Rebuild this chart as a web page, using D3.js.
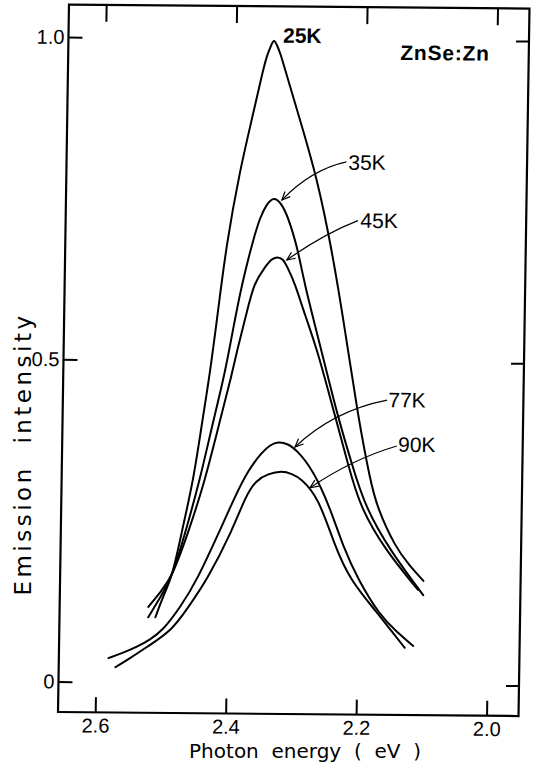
<!DOCTYPE html>
<html><head><meta charset="utf-8">
<script src="https://cdn.jsdelivr.net/npm/d3@7/dist/d3.min.js"></script>
<style>body{margin:0;background:#fff}svg{display:block}</style>
</head><body>
<svg id="chart" width="533" height="766"></svg>
<script>
// ---- data ----
const e25 = [2.510, 2.499, 2.485, 2.471, 2.455, 2.444, 2.432, 2.421, 2.410, 2.391, 2.374, 2.358, 2.351, 2.346, 2.342, 2.337, 2.332, 2.324, 2.300, 2.273, 2.248, 2.226, 2.204, 2.184, 2.173, 2.144, 2.121, 2.100];
const i25 = [0.101, 0.133, 0.164, 0.237, 0.314, 0.397, 0.481, 0.579, 0.680, 0.796, 0.874, 0.952, 0.978, 0.990, 1.000, 0.990, 0.978, 0.952, 0.874, 0.786, 0.673, 0.549, 0.414, 0.317, 0.275, 0.213, 0.184, 0.161];
const e35 = [2.521, 2.503, 2.485, 2.465, 2.445, 2.428, 2.409, 2.398, 2.385, 2.369, 2.359, 2.349, 2.338, 2.327, 2.316, 2.300, 2.290, 2.262, 2.235, 2.212, 2.191, 2.152, 2.100];
const i35 = [0.101, 0.132, 0.164, 0.237, 0.315, 0.397, 0.481, 0.548, 0.621, 0.688, 0.723, 0.744, 0.755, 0.745, 0.724, 0.673, 0.622, 0.518, 0.414, 0.340, 0.275, 0.208, 0.139];
const e45 = [2.521, 2.503, 2.485, 2.459, 2.437, 2.418, 2.398, 2.391, 2.378, 2.367, 2.350, 2.341, 2.332, 2.323, 2.316, 2.304, 2.288, 2.268, 2.239, 2.218, 2.199, 2.159, 2.108];
const i45 = [0.117, 0.140, 0.164, 0.241, 0.315, 0.397, 0.481, 0.517, 0.571, 0.621, 0.646, 0.658, 0.662, 0.659, 0.646, 0.621, 0.572, 0.518, 0.414, 0.340, 0.275, 0.208, 0.147];
const e77 = [2.581, 2.560, 2.537, 2.518, 2.498, 2.472, 2.447, 2.413, 2.391, 2.371, 2.350, 2.338, 2.326, 2.311, 2.297, 2.272, 2.245, 2.224, 2.200, 2.166, 2.139, 2.114];
const i77 = [0.037, 0.045, 0.055, 0.066, 0.081, 0.117, 0.159, 0.237, 0.289, 0.331, 0.359, 0.370, 0.375, 0.372, 0.362, 0.332, 0.274, 0.213, 0.162, 0.107, 0.081, 0.060];
const e90 = [2.570, 2.548, 2.522, 2.484, 2.460, 2.432, 2.394, 2.375, 2.359, 2.341, 2.319, 2.304, 2.291, 2.263, 2.236, 2.212, 2.170, 2.148, 2.127];
const i90 = [0.023, 0.037, 0.055, 0.081, 0.117, 0.159, 0.237, 0.289, 0.315, 0.325, 0.330, 0.325, 0.319, 0.290, 0.212, 0.161, 0.111, 0.083, 0.057];

const seriesNames = ["25K", "35K", "45K", "77K", "90K"];
const labelE = [2.328, 2.225, 2.205, 2.158, 2.142];
const labelI = [0.994, 0.798, 0.708, 0.430, 0.361];
const labelBold = [true, false, false, false, false];
// arrows (35K, 45K, 77K, 90K): start, middle, tip
const arrowNames = ["35K", "45K", "77K", "90K"];
const arrowStartE = [2.228, 2.209, 2.160, 2.144];
const arrowStartI = [0.810, 0.719, 0.441, 0.370];
const arrowMidE = [2.279, 2.262, 2.236, 2.211];
const arrowMidI = [0.789, 0.693, 0.414, 0.343];
const arrowTipE = [2.326, 2.317, 2.300, 2.276];
const arrowTipI = [0.750, 0.657, 0.367, 0.304];

const xTicks = [2.6, 2.4, 2.2, 2.0];
const yTicks = [0, 0.5, 1.0];
const sampleName = "ZnSe:Zn";
const sampleE = 2.148, sampleI = 0.969;
const xTitle = "Photon  energy  (  eV  )";
const yTitle = "Emission  intensity";

// ---- layout ----
const svg = d3.select("#chart");
const L = 63.5, R = 524, T = 6.5, B = 714;
const x = d3.scaleLinear().domain([2.657, 1.951]).range([L, R]);
const y = d3.scaleLinear().domain([-0.0473, 1.0504]).range([B, T]);

// slight skew of the scanned original
const g = svg.append("g")
  .attr("transform", "translate(290,360) matrix(1,0.0087,-0.0155,1,0,0) translate(-290,-360)");

const font = "'Liberation Sans', Arial, sans-serif";

// frame
g.append("rect").attr("x", L).attr("y", T).attr("width", R - L).attr("height", B - T)
  .attr("fill", "none").attr("stroke", "#000").attr("stroke-width", 2.2);

function styleAxis(sel, showText) {
  sel.select(".domain").remove();
  sel.selectAll(".tick line").attr("stroke", "#000").attr("stroke-width", 2);
  sel.selectAll(".tick text").attr("fill", "#000").style("font-family", font).style("font-size", "20px");
  if (!showText) sel.selectAll(".tick text").remove();
}

g.append("g").attr("transform", `translate(0,${B})`)
  .call(d3.axisBottom(x).tickValues(xTicks).tickFormat(d3.format(".1f")).tickSizeInner(-15).tickSizeOuter(0).tickPadding(6))
  .call(s => styleAxis(s, true));
g.append("g").attr("transform", `translate(0,${T})`)
  .call(d3.axisTop(x).tickValues(xTicks).tickSizeInner(-17).tickSizeOuter(0))
  .call(s => styleAxis(s, false));
g.append("g").attr("transform", `translate(${L},0)`)
  .call(d3.axisLeft(y).tickValues(yTicks).tickFormat(d => d === 0 ? "0" : d3.format(".1f")(d)).tickSizeInner(-14).tickSizeOuter(0).tickPadding(4))
  .call(s => styleAxis(s, true));
g.append("g").attr("transform", `translate(${R},0)`)
  .call(d3.axisRight(y).tickValues(yTicks).tickSizeInner(-13).tickSizeOuter(0))
  .call(s => styleAxis(s, false));

// curves
const line = d3.line().x(d => x(d[0])).y(d => y(d[1])).curve(d3.curveBasis);
const series = [[e25, i25], [e35, i35], [e45, i45], [e77, i77], [e90, i90]];
series.forEach(([es, is], k) => {
  g.append("path").datum(es.map((e, j) => [e, is[j]]))
    .attr("class", "curve-" + seriesNames[k])
    .attr("d", line).attr("fill", "none").attr("stroke", "#000").attr("stroke-width", 2)
    .attr("stroke-linejoin", "round").attr("stroke-linecap", "round");
});

// labels
seriesNames.forEach((n, k) => {
  g.append("text").attr("x", x(labelE[k])).attr("y", y(labelI[k]))
    .text(n).style("font-family", font).style("font-size", "21px")
    .style("font-weight", labelBold[k] ? "bold" : "normal").attr("fill", "#000");
});
g.append("text").attr("x", x(sampleE)).attr("y", y(sampleI)).text(sampleName)
  .style("font-family", font).style("font-size", "21px").style("font-weight", "bold")
  .style("letter-spacing", "0.8px").attr("fill", "#000");

// arrows
arrowNames.forEach((n, k) => {
  const S = [x(arrowStartE[k]), y(arrowStartI[k])];
  const M = [x(arrowMidE[k]), y(arrowMidI[k])];
  const Tp = [x(arrowTipE[k]), y(arrowTipI[k])];
  const C = [2 * M[0] - (S[0] + Tp[0]) / 2, 2 * M[1] - (S[1] + Tp[1]) / 2];
  const p = d3.path();
  p.moveTo(S[0], S[1]); p.quadraticCurveTo(C[0], C[1], Tp[0], Tp[1]);
  const ang = Math.atan2(C[1] - Tp[1], C[0] - Tp[0]);
  const len = 9, spread = 0.42;
  const h = d3.path();
  h.moveTo(Tp[0] + len * Math.cos(ang + spread), Tp[1] + len * Math.sin(ang + spread));
  h.lineTo(Tp[0], Tp[1]);
  h.lineTo(Tp[0] + len * Math.cos(ang - spread), Tp[1] + len * Math.sin(ang - spread));
  g.append("path").attr("d", p.toString()).attr("fill", "none").attr("stroke", "#000").attr("stroke-width", 1.2);
  g.append("path").attr("d", h.toString()).attr("fill", "none").attr("stroke", "#000").attr("stroke-width", 1.2);
});

// axis titles
svg.append("text").attr("x", 305).attr("y", 758).attr("text-anchor", "middle")
  .style("white-space", "pre").style("font-family", "'DejaVu Sans', sans-serif").style("font-size", "20px")
  .text(xTitle);
svg.append("text").attr("transform", "translate(31,454) rotate(-90)").attr("text-anchor", "middle")
  .style("white-space", "pre").style("font-family", "'DejaVu Sans', sans-serif").style("font-size", "23px")
  .style("letter-spacing", "3.5px")
  .text(yTitle);
</script>
</body></html>
